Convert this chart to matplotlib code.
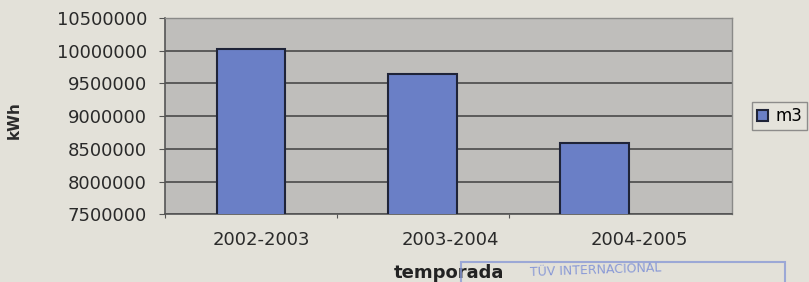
import matplotlib.pyplot as plt
from matplotlib.patches import Rectangle

temporadas = ['2002-2003', '2003-2004', '2004-2005']
consumo = [10030000, 9650000, 8590000]
yticks = [7500000, 8000000, 8500000, 9000000, 9500000, 10000000, 10500000]

fig = plt.figure(figsize=(8.09, 2.82), dpi=100)
fig.patch.set_facecolor('#e3e1d9')
ax = fig.add_axes([0.204, 0.240, 0.701, 0.696])
ax.set_facecolor('#bfbebb')

x = list(range(len(temporadas)))
ax.bar(x, consumo, width=0.40, color='#6a7fc6', edgecolor='#1f2438',
       linewidth=1.5, label='m3', zorder=3)

ax.set_ylim(7500000, 10500000)
ax.set_yticks(yticks)
ax.set_yticklabels([str(v) for v in yticks], fontsize=13, color='#2a2a2a')
ax.yaxis.grid(True, color='#4a4a4a', linewidth=1.2, zorder=1)

# category labels sit a little right of the bars in the photo
ax.set_xlim(-0.5, 2.80)
ax.set_xticks([-0.5, 0.5, 1.5])
ax.set_xticklabels([])
ax.set_xticks([i * 1.1 + 0.06 for i in x], minor=True)
ax.set_xticklabels(temporadas, minor=True, fontsize=13, color='#2a2a2a')
ax.tick_params(axis='x', which='minor', length=0, pad=12)
ax.tick_params(axis='x', which='major', length=3, color='#555555')
ax.tick_params(axis='y', length=4, pad=9, color='#555555')

for side in ['top', 'right']:
    ax.spines[side].set_color('#8a8a88')
    ax.spines[side].set_linewidth(1.0)
for side in ['left', 'bottom']:
    ax.spines[side].set_color('#555555')
    ax.spines[side].set_linewidth(1.2)

ax.set_ylabel('kWh', fontsize=11, fontweight='bold', color='#2a2a2a')
ax.yaxis.set_label_coords(-0.253, 0.48)
ax.set_xlabel('temporada', fontsize=13, fontweight='bold', color='#222222', labelpad=11)

leg = ax.legend(loc='center left', bbox_to_anchor=(1.02, 0.5), fontsize=12,
                frameon=True, fancybox=False, handlelength=0.7, handleheight=0.7,
                borderpad=0.3, handletextpad=0.4)
leg.get_frame().set_edgecolor('#777777')
leg.get_frame().set_facecolor('#e6e4dc')

# stamp at the bottom
fig.patches.append(Rectangle((0.57, -0.05), 0.40, 0.12, transform=fig.transFigure,
                             fill=False, edgecolor='#8a9ad6', linewidth=1.5, alpha=0.8))
fig.text(0.655, 0.02, 'TÜV INTERNACIONAL', fontsize=9, color='#8a9ad6', rotation=2)

fig.savefig('out.png', dpi=100, facecolor=fig.get_facecolor())
